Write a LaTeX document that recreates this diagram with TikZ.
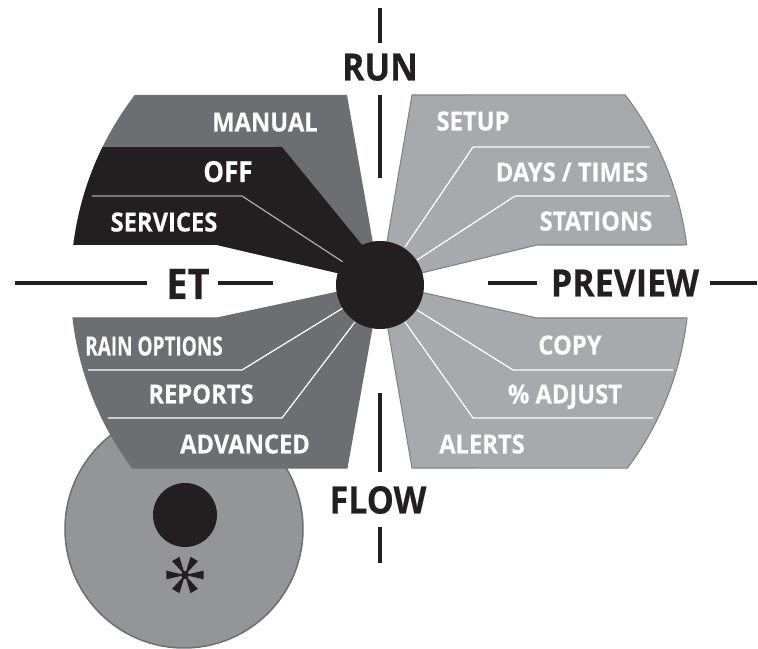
\documentclass[tikz,border=0pt]{standalone}
\usepackage{fontspec}
\setmainfont[FakeStretch=0.9,BoldFeatures={FakeBold=0.35}]{Open Sans}
\newfontfamily\narrowfont[FakeStretch=0.72,BoldFeatures={FakeBold=0.35}]{Open Sans}
\definecolor{darkgrey}{HTML}{6D6E71}
\definecolor{lightgrey}{HTML}{A7A9AC}
\definecolor{midgrey}{HTML}{939598}
\definecolor{rimgrey}{HTML}{808285}
\definecolor{inkblack}{HTML}{231F20}

\begin{document}
\begin{tikzpicture}[x=0.02cm,y=0.02cm,
  item/.style={text=white,inner sep=0pt,text height=0.38cm,text depth=0pt,
    font=\bfseries\fontsize{15}{15}\selectfont},
  mode/.style={text=inkblack,inner sep=0pt,text height=0.54cm,text depth=0pt,
    font=\bfseries\fontsize{21.5}{21.5}\selectfont},
  tick/.style={inkblack,line width=0.08cm},
  sep/.style={white,line width=0.7pt}]
  \useasboundingbox (-380,-366) rectangle (378,283);
  \filldraw[fill=midgrey,draw=darkgrey,line width=0.85pt] (-196,-246) circle (119);
  \fill[inkblack] (-195,-232) circle (32);
  \begin{scope}[shift={(-195,-292)}]
    \fill[inkblack] (0,0) circle (4);
    \foreach \a in {0,60,...,300}
      \fill[inkblack] (0,0) -- (\a-13:19) -- (\a+13:19) -- cycle;
  \end{scope}
  \fill[darkgrey] (0,0) -- (-33,188) -- (142.5:309)
    arc[start angle=142.5,end angle=172.9,radius=309] -- (-163,38) -- cycle;
  \fill[inkblack] (5,10) -- (-98,136) -- (153.9:309)
    arc[start angle=153.9,end angle=172.9,radius=309] -- (-163,38) -- (0,0) -- cycle;
  \draw[sep,lightgrey] (-288,87) -- (-138,87) -- (-37,21);
  \filldraw[fill=lightgrey,draw=rimgrey,line width=0.6pt] (0,0) -- (32,188) -- (37.5:309)
    arc[start angle=37.5,end angle=7.07,radius=309] -- (157,38) -- cycle;
  \draw[sep] (270,136) -- (93,136) -- (25,36);
  \draw[sep] (290,87) -- (135,87) -- (37,23);
  \filldraw[fill=darkgrey,draw=darkgrey,line width=0.6pt] (0,0) -- (-163,-35) -- (186.5:309)
    arc[start angle=186.5,end angle=216.8,radius=309] -- (-33,-185) -- cycle;
  \draw[sep] (-292,-87) -- (-138,-87) -- (-37,-25);
  \draw[sep] (-272,-135) -- (-98,-135) -- (-25,-39);
  \filldraw[fill=lightgrey,draw=rimgrey,line width=0.6pt] (0,0) -- (157,-35) -- (-6.5:309)
    arc[start angle=-6.5,end angle=-36.8,radius=309] -- (32,-185) -- cycle;
  \draw[sep] (293,-87) -- (133,-87) -- (37,-27);
  \draw[sep] (273,-135) -- (93,-135) -- (25,-39);
  \fill[inkblack] (0,-2) circle (44);

  \node[item] (manual) at (-115,161) {MANUAL};
  \node[item,text height=0.4cm,font=\bfseries\fontsize{16.5}{16.5}\selectfont] (off) at (-152,111) {OFF};
  \node[item] (services) at (-216,61) {SERVICES};
  \node[item] (setup) at (93,162) {SETUP};
  \node[item] (daystimes) at (192,111) {DAYS / TIMES};
  \node[item] (stations) at (216,62) {STATIONS};
  \node[item,font=\narrowfont\bfseries\fontsize{15}{15}\selectfont] (rain) at (-226,-63) {RAIN OPTIONS};
  \node[item] (reports) at (-179,-111) {REPORTS};
  \node[item] (advanced) at (-135,-161) {ADVANCED};
  \node[item] (copy) at (190,-62) {COPY};
  \node[item] (adjust) at (185,-111) {\% ADJUST};
  \node[item] (alerts) at (102,-161) {ALERTS};

  \node[mode] (run) at (0,216) {RUN};
  \node[mode] (flow) at (-2,-217) {FLOW};
  \node[mode,text height=0.6cm,font=\bfseries\fontsize{24}{24}\selectfont] (et) at (-192,-1) {ET};
  \node[mode] (preview) at (245,0) {PREVIEW};
  \draw[tick] (0,275) -- (0,240);
  \draw[tick] (0,188) -- (0,105);
  \draw[tick] (0,-110) -- (0,-189);
  \draw[tick] (0,-244) -- (0,-280);
  \draw[tick] (-365,0) -- (-233,0);
  \draw[tick] (-162,0) -- (-107,0);
  \draw[tick] (108,0) -- (157,0);
  \draw[tick] (330,0) -- (377,0);
\end{tikzpicture}
\end{document}
